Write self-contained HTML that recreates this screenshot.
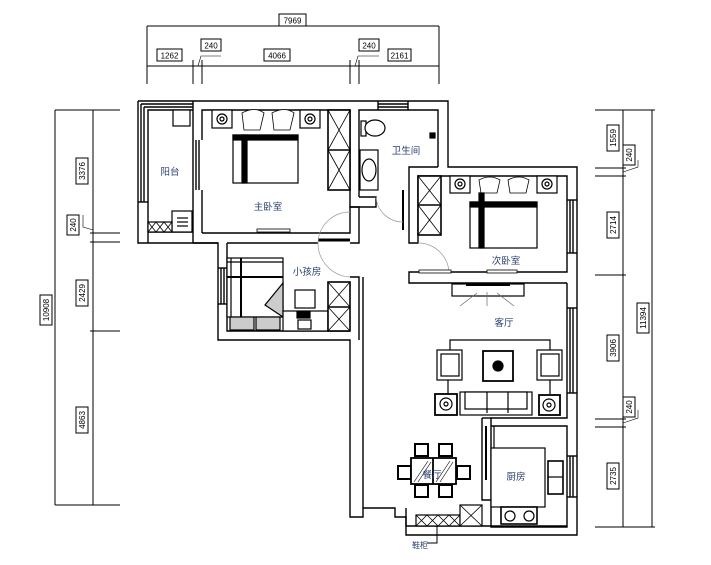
<!DOCTYPE html>
<html><head><meta charset="utf-8"><style>
html,body{margin:0;padding:0;background:#fff;}
svg{display:block}
text{font-family:"Liberation Sans","Noto Sans CJK SC",sans-serif;}
.d{font-size:8px;fill:#000}
.l{font-size:9.5px;fill:#2a3f6e}
</style></head><body>
<svg width="711" height="565" viewBox="0 0 711 565" xmlns="http://www.w3.org/2000/svg">
<g stroke="#000" stroke-width="1" fill="none">
<!-- top dims -->
<line x1="147" y1="26" x2="439" y2="26"/>
<line x1="147" y1="66" x2="439" y2="66"/>
<line x1="147" y1="26" x2="147" y2="84"/><line x1="439" y1="26" x2="439" y2="84"/>
<line x1="193" y1="60" x2="193" y2="84"/><line x1="202" y1="60" x2="202" y2="84"/>
<line x1="350" y1="60" x2="350" y2="84"/><line x1="359" y1="60" x2="359" y2="84"/>
<polyline points="198,66 201,56 221,56" stroke-width="0.6"/>
<polyline points="355,66 358,56 379,56" stroke-width="0.6"/>
<rect x="279" y="14" width="27" height="12"/>
<rect x="157" y="49" width="25" height="12"/>
<rect x="201" y="39" width="20" height="12"/>
<rect x="264" y="49" width="26" height="12"/>
<rect x="359" y="39" width="20" height="12"/>
<rect x="388" y="49" width="23" height="12"/>
<!-- left dims -->
<line x1="55" y1="110" x2="55" y2="505"/><line x1="93" y1="110" x2="93" y2="505"/>
<line x1="55" y1="110" x2="120" y2="110"/><line x1="55" y1="505" x2="120" y2="505"/>
<line x1="90" y1="233" x2="120" y2="233"/><line x1="90" y1="242" x2="120" y2="242"/>
<line x1="90" y1="331" x2="120" y2="331"/>
<polyline points="83,215 83,227 93,230" stroke-width="0.6"/>
<rect x="76" y="158" width="12" height="26"/>
<rect x="67" y="215" width="12" height="20"/>
<rect x="76" y="280" width="12" height="26"/>
<rect x="76" y="407" width="12" height="26"/>
<rect x="40" y="295" width="12" height="30"/>
<!-- right dims -->
<line x1="623" y1="110" x2="623" y2="527"/><line x1="652" y1="110" x2="652" y2="527"/>
<line x1="595" y1="110" x2="655" y2="110"/><line x1="595" y1="527" x2="655" y2="527"/>
<line x1="595" y1="168" x2="626" y2="168"/><line x1="595" y1="176" x2="626" y2="176"/>
<line x1="595" y1="275" x2="626" y2="275"/>
<line x1="595" y1="419" x2="626" y2="419"/><line x1="595" y1="427" x2="626" y2="427"/>
<polyline points="623,172 638,167 638,160" stroke-width="0.6"/>
<polyline points="623,423 638,418 638,410" stroke-width="0.6"/>
<rect x="607" y="125" width="12" height="26"/>
<rect x="623" y="145" width="12" height="20"/>
<rect x="607" y="212" width="12" height="26"/>
<rect x="607" y="335" width="12" height="26"/>
<rect x="623" y="397" width="12" height="20"/>
<rect x="607" y="463" width="12" height="26"/>
<rect x="637" y="303" width="12" height="30"/>
</g>
<g class="d">
<text x="292.5" y="23.5" text-anchor="middle">7969</text>
<text x="169.5" y="58.5" text-anchor="middle">1262</text>
<text x="211" y="48.5" text-anchor="middle">240</text>
<text x="277" y="58.5" text-anchor="middle">4066</text>
<text x="369" y="48.5" text-anchor="middle">240</text>
<text x="399.5" y="58.5" text-anchor="middle">2161</text>
<text transform="translate(85,171) rotate(-90)" text-anchor="middle">3376</text>
<text transform="translate(76,225) rotate(-90)" text-anchor="middle">240</text>
<text transform="translate(85,293) rotate(-90)" text-anchor="middle">2429</text>
<text transform="translate(85,420) rotate(-90)" text-anchor="middle">4863</text>
<text transform="translate(49,310) rotate(-90)" text-anchor="middle">10908</text>
<text transform="translate(616,138) rotate(-90)" text-anchor="middle">1559</text>
<text transform="translate(632,155) rotate(-90)" text-anchor="middle">240</text>
<text transform="translate(616,225) rotate(-90)" text-anchor="middle">2714</text>
<text transform="translate(616,348) rotate(-90)" text-anchor="middle">3906</text>
<text transform="translate(632,407) rotate(-90)" text-anchor="middle">240</text>
<text transform="translate(616,476) rotate(-90)" text-anchor="middle">2735</text>
<text transform="translate(646,318) rotate(-90)" text-anchor="middle">11394</text>
</g>

<!-- walls -->
<g stroke="#000" stroke-width="1.4" fill="none">
<!-- outer outline -->
<polyline points="138,101 193,101 193,101 378,101 378,101 448,101 448,167 577,167 577,535 406,535 406,517 395,517 395,508 363,508 363,517 350,517 350,340 218,340 218,243 193,243 138,243 138,101"/>
<!-- balcony inner -->
<polyline points="148,243 148,110 193,110"/>
<line x1="141" y1="104" x2="141" y2="202"/><line x1="144" y1="107" x2="144" y2="202"/>
<line x1="141" y1="104" x2="193" y2="104"/><line x1="144" y1="107" x2="193" y2="107"/>
<line x1="138" y1="202" x2="148" y2="202"/>
<line x1="148" y1="232" x2="193" y2="232"/>
<!-- main bedroom -->
<polyline points="193,101 193,243"/>
<polyline points="202,140 202,110 350,110 350,197"/>
<line x1="202" y1="190" x2="202" y2="233"/>
<line x1="196" y1="140" x2="196" y2="190"/><line x1="199" y1="140" x2="199" y2="190"/>
<polyline points="202,233 318,233"/>
<polyline points="193,243 218,243"/>
<polyline points="227,243 318,243"/>
<polyline points="318,233 350,233 350,207 359,207 359,243 350,243"/>
<line x1="318" y1="240" x2="350" y2="240" stroke-width="3"/>
<!-- bathroom -->
<polyline points="359,197 359,110 438,110 438,167"/>
<polyline points="350,197 350,207 376,207 376,197 359,197"/>
<line x1="378" y1="101" x2="378" y2="110"/><line x1="408" y1="101" x2="408" y2="110"/>
<line x1="378" y1="104" x2="408" y2="104"/><line x1="378" y1="107" x2="408" y2="107"/>
<!-- second bedroom -->
<polyline points="438,167 409,167 409,243 418,243 418,176 567,176 567,272 409,272 409,283 567,283"/>
<line x1="403" y1="190" x2="403" y2="230" stroke-width="2"/>
<line x1="567" y1="200" x2="577" y2="200"/><line x1="567" y1="253" x2="577" y2="253"/>
<line x1="570" y1="200" x2="570" y2="253"/><line x1="573" y1="200" x2="573" y2="253"/>
<!-- living -->
<polyline points="567,283 567,418 491,418 491,426 567,426 567,527 491,527 491,426"/>
<line x1="567" y1="308" x2="577" y2="308"/><line x1="567" y1="393" x2="577" y2="393"/>
<line x1="570" y1="308" x2="570" y2="393"/><line x1="573" y1="308" x2="573" y2="393"/>
<line x1="567" y1="456" x2="577" y2="456"/><line x1="567" y1="497" x2="577" y2="497"/>
<line x1="570" y1="456" x2="570" y2="497"/><line x1="573" y1="456" x2="573" y2="497"/>
<polyline points="482,418 482,500 491,500"/>
<line x1="486" y1="426" x2="486" y2="480" stroke-width="2"/>
<polyline points="482,418 491,418"/>
<!-- left column / child room -->
<polyline points="363,277 363,508"/>
<polyline points="350,277 359,277 359,340"/>
<polyline points="227,243 227,331 350,331"/>
<line x1="218" y1="268" x2="227" y2="268"/><line x1="218" y1="304" x2="227" y2="304"/>
<line x1="221" y1="268" x2="221" y2="304"/><line x1="224" y1="268" x2="224" y2="304"/>
<!-- bottom -->
<polyline points="406,508 406,526 491,526"/>
<line x1="491" y1="526" x2="567" y2="526"/>
</g>
<!-- door arcs -->
<g stroke="#999" stroke-width="0.7" fill="none">
<path d="M318,243 A32,32 0 0 1 350,212"/>
<path d="M318,243 A34,34 0 0 0 350,277"/>
<path d="M376,197 A27,27 0 0 0 403,222"/>
<path d="M418,243 A31,31 0 0 1 449,272"/>
</g>

<!-- furniture -->
<g stroke="#000" stroke-width="1.2" fill="#fff">
<!-- balcony -->
<rect x="173" y="110" width="17" height="16"/>
<rect x="172" y="211" width="20" height="21"/>
<line x1="177" y1="218" x2="188" y2="218"/><line x1="177" y1="222" x2="188" y2="222"/><line x1="177" y1="226" x2="188" y2="226"/>
<rect x="148" y="222" width="24" height="10"/>
<path d="M148,222 L156,232 M156,222 L148,232 M156,222 L164,232 M164,222 L156,232 M164,222 L172,232 M172,222 L164,232" fill="none" stroke-width="0.8"/>
<!-- main bedroom -->
<rect x="212" y="110" width="20" height="18"/>
<circle cx="222" cy="119" r="5"/><circle cx="222" cy="119" r="2"/>
<rect x="300" y="110" width="20" height="18"/>
<circle cx="310" cy="119" r="5"/><circle cx="310" cy="119" r="2"/>
<path d="M242,113 Q255,106 264,113 L260,130 L244,130 Z" stroke-width="0.8"/>
<path d="M272,113 Q285,106 294,113 L290,130 L274,130 Z" stroke-width="0.8"/>
<rect x="233" y="135" width="65" height="48"/>
<rect x="233" y="135" width="65" height="5" fill="#000"/>
<rect x="242" y="135" width="5" height="48" fill="#000"/>
<rect x="328" y="110" width="22" height="80" stroke-width="1.6"/>
<line x1="328" y1="150" x2="350" y2="150" stroke-width="1.6"/>
<path d="M328,110 L350,150 M350,110 L328,150 M328,150 L350,190 M350,150 L328,190" fill="none" stroke-width="0.8"/>
<rect x="257" y="229" width="33" height="3" stroke-width="0.8"/>
<!-- bathroom -->
<rect x="361" y="121" width="5" height="15"/>
<ellipse cx="375" cy="128" rx="10" ry="8"/>
<rect x="360" y="150" width="18" height="40"/>
<ellipse cx="369" cy="170" rx="7" ry="11"/>
<rect x="430" y="133" width="5" height="5" fill="#000"/>
<!-- second bedroom -->
<rect x="418" y="176" width="23" height="59" stroke-width="1.6"/>
<line x1="418" y1="205" x2="441" y2="205" stroke-width="1.6"/>
<path d="M418,176 L441,205 M441,176 L418,205 M418,205 L441,235 M441,205 L418,235" fill="none" stroke-width="0.8"/>
<rect x="450" y="176" width="20" height="17"/><circle cx="460" cy="184" r="5"/><circle cx="460" cy="184" r="2"/>
<rect x="537" y="176" width="20" height="17"/><circle cx="547" cy="184" r="5"/><circle cx="547" cy="184" r="2"/>
<path d="M479,180 Q490,174 500,180 L497,193 L481,193 Z" stroke-width="0.8"/>
<path d="M508,180 Q519,174 529,180 L526,193 L510,193 Z" stroke-width="0.8"/>
<rect x="470" y="202" width="67" height="46"/>
<rect x="470" y="202" width="67" height="5" fill="#000"/>
<rect x="479" y="193" width="5" height="55" fill="#000"/>
<rect x="419" y="270" width="32" height="3" stroke-width="0.8"/>
<rect x="487" y="270" width="30" height="3" stroke-width="0.8"/>
<!-- living -->
<rect x="452" y="284" width="72" height="12"/>
<line x1="466" y1="285" x2="510" y2="285" stroke-width="2"/>
<path d="M477,293 L460,306 M487,292 L487,306 M497,293 L514,306" fill="none" stroke="#666" stroke-width="0.7"/>
<polyline points="450,350 450,340 550,340 550,350" fill="none"/>
<rect x="437" y="350" width="25" height="30"/><rect x="441" y="354" width="18" height="22"/>
<rect x="537" y="350" width="25" height="30"/><rect x="541" y="354" width="18" height="22"/>
<rect x="483" y="351" width="30" height="30" stroke-width="1.8"/>
<circle cx="498" cy="366" r="5" fill="#000"/>
<line x1="448" y1="380" x2="448" y2="394"/><line x1="550" y1="380" x2="550" y2="394"/>
<rect x="460" y="392" width="72" height="23"/>
<rect x="465" y="392" width="62" height="17"/>
<line x1="487" y1="392" x2="487" y2="413"/><line x1="508" y1="392" x2="508" y2="413"/>
<rect x="435" y="394" width="22" height="21" stroke-width="1.8"/><circle cx="446" cy="404" r="6"/><circle cx="446" cy="404" r="2"/>
<rect x="539" y="395" width="21" height="20" stroke-width="1.8"/><circle cx="549" cy="405" r="6"/><circle cx="549" cy="405" r="2"/>
<!-- dining -->
<rect x="415" y="444" width="13" height="12" stroke-width="2"/>
<rect x="439" y="444" width="13" height="12" stroke-width="2"/>
<rect x="415" y="485" width="13" height="12" stroke-width="2"/>
<rect x="439" y="485" width="13" height="12" stroke-width="2"/>
<rect x="398" y="466" width="13" height="13" stroke-width="2"/>
<rect x="457" y="466" width="13" height="13" stroke-width="2"/>
<rect x="411" y="458" width="45" height="26" stroke-width="1.8"/>
<line x1="433" y1="458" x2="433" y2="484" stroke-width="1.8"/>
<path d="M414,482 L428,461 M418,482 L431,462 M436,482 L450,461 M440,482 L453,462" fill="none" stroke-width="0.6"/>
<!-- kitchen -->
<rect x="491" y="448" width="54" height="59"/>
<line x1="494" y1="426" x2="494" y2="448"/>
<rect x="548" y="461" width="15" height="33" stroke-width="1.6"/>
<line x1="548" y1="477" x2="563" y2="477"/>
<rect x="501" y="507" width="36" height="17" stroke-width="1.6"/>
<circle cx="510" cy="516" r="5"/><circle cx="529" cy="516" r="5"/>
<!-- shoe cabinet -->
<rect x="416" y="515" width="44" height="11"/>
<path d="M416,515 L427,526 M427,515 L416,526 M427,515 L438,526 M438,515 L427,526 M438,515 L449,526 M449,515 L438,526 M449,515 L460,526 M460,515 L449,526" fill="none" stroke-width="0.8"/>
<rect x="460" y="505" width="22" height="21"/>
<path d="M460,505 L482,526 M482,505 L460,526" fill="none" stroke-width="0.8"/>
<polyline points="437,526 437,543 427,543" fill="none" stroke-width="1"/>
<!-- child room -->
<rect x="227" y="258" width="56" height="59"/>
<line x1="227" y1="262" x2="283" y2="262"/><line x1="227" y1="277" x2="283" y2="277" stroke-width="2"/>
<line x1="231" y1="258" x2="231" y2="317"/><line x1="241" y1="258" x2="241" y2="317" stroke-width="2"/>
<path d="M283,283 L265,305 L283,317 Z" fill="#ccc"/>
<rect x="230" y="317" width="24" height="13" fill="#ccc"/>
<rect x="256" y="317" width="24" height="13" fill="#ccc"/>
<rect x="283" y="311" width="45" height="20"/>
<rect x="297" y="312" width="13" height="6" fill="#000"/>
<rect x="295" y="290" width="20" height="18"/>
<rect x="298" y="320" width="13" height="9"/>
<rect x="328" y="282" width="22" height="49" stroke-width="1.6"/>
<line x1="328" y1="307" x2="350" y2="307" stroke-width="1.6"/>
<path d="M328,282 L350,307 M350,282 L328,307 M328,307 L350,331 M350,307 L328,331" fill="none" stroke-width="0.8"/>
</g>
<g class="l">
<text x="170" y="175" text-anchor="middle">阳台</text>
<text x="268" y="210" text-anchor="middle">主卧室</text>
<text x="406" y="154" text-anchor="middle">卫生间</text>
<text x="307" y="275" text-anchor="middle">小孩房</text>
<text x="506" y="264" text-anchor="middle">次卧室</text>
<text x="504" y="326" text-anchor="middle">客厅</text>
<text x="432" y="478" text-anchor="middle">餐厅</text>
<text x="516" y="480" text-anchor="middle">厨房</text>
<text x="420" y="548" text-anchor="middle" style="font-size:8px">鞋柜</text>
</g>
</svg>
</body></html>
